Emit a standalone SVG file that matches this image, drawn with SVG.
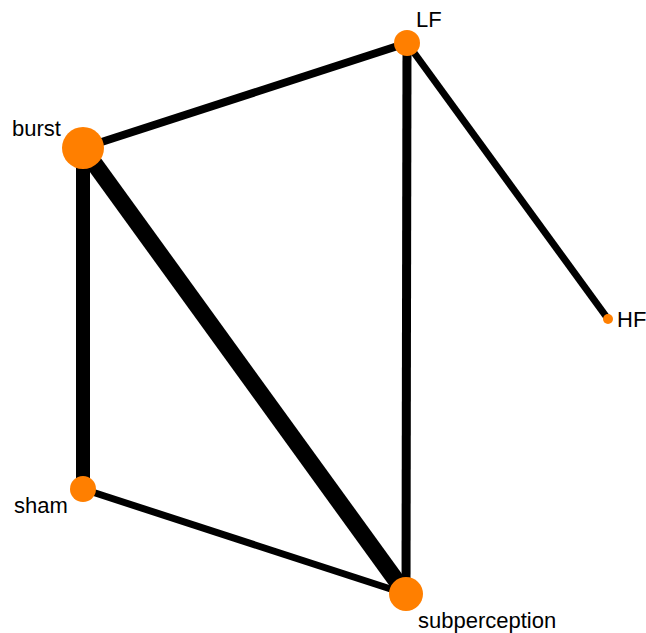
<svg xmlns="http://www.w3.org/2000/svg" width="646" height="633" viewBox="0 0 646 633">
<style>
.e{stroke:#000;stroke-linecap:butt;fill:none}
.n{fill:#FF7F00}
.t{font-family:"Liberation Sans",Arial,sans-serif;font-size:22px;fill:#000}
</style>
<rect width="646" height="633" fill="#fff"/>
<g id="connectors">
<line class="e" x1="83" y1="148" x2="407" y2="43" stroke-width="8"/>
<line class="e" x1="407" y1="43" x2="608" y2="319" stroke-width="7"/>
<line class="e" x1="407" y1="43" x2="406" y2="594" stroke-width="9"/>
<line class="e" x1="83" y1="148" x2="83" y2="489" stroke-width="14"/>
<line class="e" x1="83" y1="148" x2="406" y2="594" stroke-width="17"/>
<line class="e" x1="83" y1="489" x2="406" y2="594" stroke-width="7"/>
</g>
<g id="burst"><circle class="n" cx="83" cy="148" r="21"/><text class="t" x="12" y="136">burst</text></g>
<g id="LF"><circle class="n" cx="407" cy="43" r="13"/><text class="t" x="416" y="27">LF</text></g>
<g id="HF"><circle class="n" cx="608" cy="319" r="5"/><text class="t" x="617" y="327">HF</text></g>
<g id="sham"><circle class="n" cx="83" cy="489" r="13"/><text class="t" x="14" y="513">sham</text></g>
<g id="subperception"><circle class="n" cx="406" cy="594" r="17"/><text class="t" x="418" y="628">subperception</text></g>
</svg>
